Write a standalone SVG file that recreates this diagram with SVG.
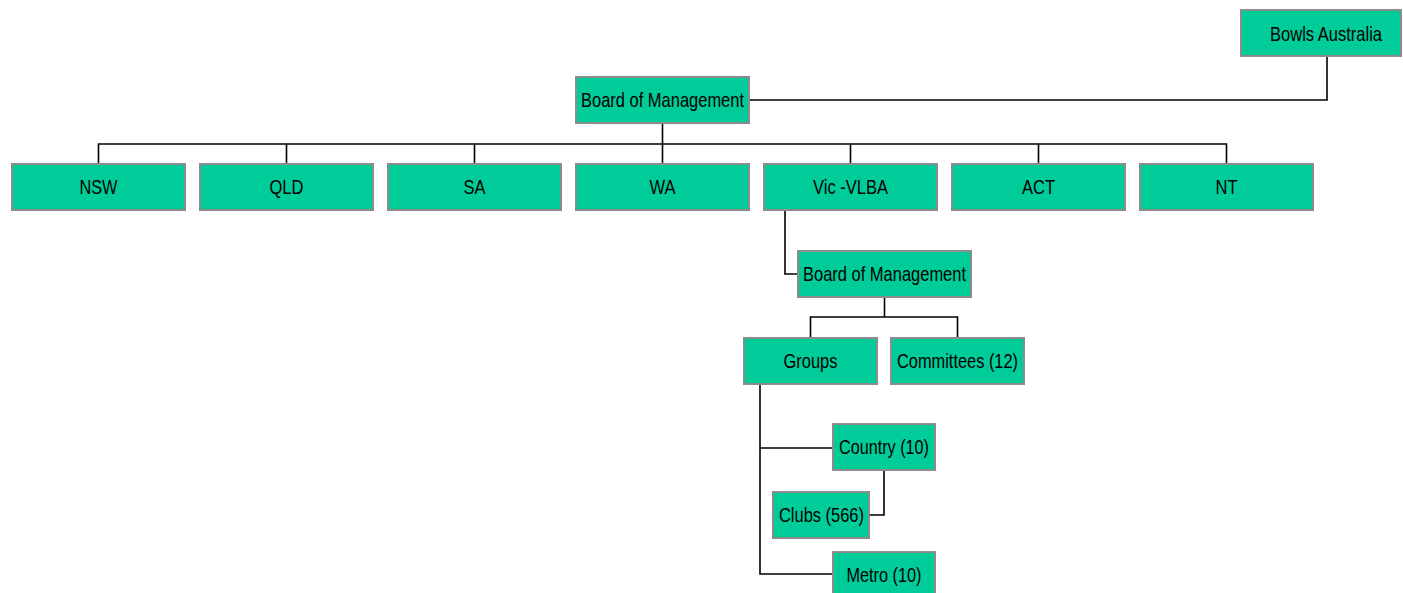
<svg xmlns="http://www.w3.org/2000/svg" width="1403" height="593" viewBox="0 0 1403 593">
<style>
.box{fill:#00CC99;stroke:#8C8C8C;stroke-width:2}
.t{font-family:"Liberation Sans",Arial,sans-serif;font-size:21px;fill:#000;text-anchor:middle}
.c{fill:none;stroke:#000;stroke-width:1.6}
</style>
<rect width="1403" height="593" fill="#fff"/>
<g id="connectors">
<path class="c" d="M749 100 H1327 V56"/>
<path class="c" d="M662.5 123 V144"/>
<path class="c" d="M98.5 164 V144 H1226.5 V164"/>
<path class="c" d="M286.5 144 V164 M474.5 144 V164 M662.5 144 V164 M850.5 144 V164 M1038.5 144 V164"/>
<path class="c" d="M785 210 V274 H798"/>
<path class="c" d="M884.5 297 V317"/>
<path class="c" d="M810.5 338 V317 H957.5 V338"/>
<path class="c" d="M760 384 V574 H833 M760 448 H833"/>
<path class="c" d="M884 470 V515 H869"/>
</g>
<g id="bowls-australia"><rect class="box" x="1241" y="10" width="160" height="46"/><text class="t" x="1326" y="41" textLength="112" lengthAdjust="spacingAndGlyphs">Bowls Australia</text></g>
<g id="board"><rect class="box" x="576" y="77" width="173" height="46"/><text class="t" x="662.5" y="107" textLength="163" lengthAdjust="spacingAndGlyphs">Board of Management</text></g>
<g id="nsw"><rect class="box" x="12" y="164" width="173" height="46"/><text class="t" x="98.5" y="194" textLength="38" lengthAdjust="spacingAndGlyphs">NSW</text></g>
<g id="qld"><rect class="box" x="200" y="164" width="173" height="46"/><text class="t" x="286.5" y="194" textLength="34" lengthAdjust="spacingAndGlyphs">QLD</text></g>
<g id="sa"><rect class="box" x="388" y="164" width="173" height="46"/><text class="t" x="474.5" y="194" textLength="22" lengthAdjust="spacingAndGlyphs">SA</text></g>
<g id="wa"><rect class="box" x="576" y="164" width="173" height="46"/><text class="t" x="662.5" y="194" textLength="26" lengthAdjust="spacingAndGlyphs">WA</text></g>
<g id="vic"><rect class="box" x="764" y="164" width="173" height="46"/><text class="t" x="850.5" y="194" textLength="75" lengthAdjust="spacingAndGlyphs">Vic -VLBA</text></g>
<g id="act"><rect class="box" x="952" y="164" width="173" height="46"/><text class="t" x="1038.5" y="194" textLength="33" lengthAdjust="spacingAndGlyphs">ACT</text></g>
<g id="nt"><rect class="box" x="1140" y="164" width="173" height="46"/><text class="t" x="1226.5" y="194" textLength="22" lengthAdjust="spacingAndGlyphs">NT</text></g>
<g id="vic-board"><rect class="box" x="798" y="251" width="173" height="46"/><text class="t" x="884.5" y="281" textLength="163" lengthAdjust="spacingAndGlyphs">Board of Management</text></g>
<g id="groups"><rect class="box" x="744" y="338" width="133" height="46"/><text class="t" x="810.5" y="368" textLength="54" lengthAdjust="spacingAndGlyphs">Groups</text></g>
<g id="committees"><rect class="box" x="891" y="338" width="133" height="46"/><text class="t" x="957.5" y="368" textLength="121" lengthAdjust="spacingAndGlyphs">Committees (12)</text></g>
<g id="country"><rect class="box" x="833" y="424" width="102" height="46"/><text class="t" x="884" y="454" textLength="90" lengthAdjust="spacingAndGlyphs">Country (10)</text></g>
<g id="clubs"><rect class="box" x="773" y="492" width="96" height="46"/><text class="t" x="821.5" y="522" textLength="85" lengthAdjust="spacingAndGlyphs">Clubs (566)</text></g>
<g id="metro"><rect class="box" x="833" y="552" width="102" height="46"/><text class="t" x="884" y="582" textLength="75" lengthAdjust="spacingAndGlyphs">Metro (10)</text></g>
</svg>
